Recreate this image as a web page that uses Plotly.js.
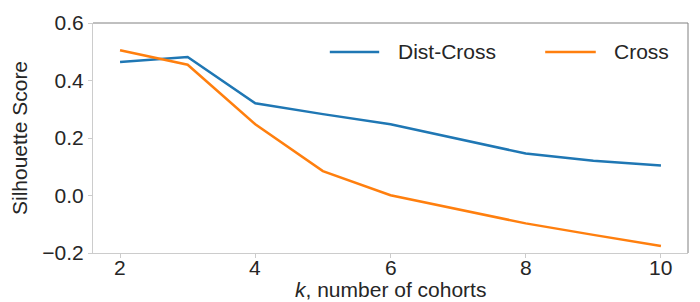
<!DOCTYPE html>
<html>
<head>
<meta charset="utf-8">
<script src="https://cdn.plot.ly/plotly-3.0.1.min.js"></script>
<style>html,body{margin:0;padding:0;background:#fff;}#chart{width:700px;height:302px;}</style>
</head>
<body>
<div id="chart"></div>
<script>
const k = [2, 3, 4, 5, 6, 7, 8, 9, 10];
const distCross = [0.464, 0.482, 0.321, 0.283, 0.248, 0.198, 0.146, 0.121, 0.104];
const cross = [0.505, 0.455, 0.248, 0.085, 0.001, -0.048, -0.097, -0.137, -0.176];
const seriesNames = ['Dist-Cross', 'Cross'];
const seriesColors = ['#1f77b4', '#ff7f0e'];
const xTicks = [2, 4, 6, 8, 10];
const xTickText = ['2', '4', '6', '8', '10'];
const yTicks = [-0.2, 0.0, 0.2, 0.4, 0.6];
const yTickText = ['\u22120.2', '0.0', '0.2', '0.4', '0.6'];
const xTitle = '<i>k</i>, number of cohorts';
const yTitle = 'Silhouette Score';

const FONT = 'Liberation Sans';
const FS = 21;
const TXT = '#262626';
const traces = [
  {x: k, y: distCross, name: seriesNames[0], mode: 'lines', line: {color: seriesColors[0], width: 2.5}},
  {x: k, y: cross, name: seriesNames[1], mode: 'lines', line: {color: seriesColors[1], width: 2.5}}
];

// manual legend (paper coordinates of the plot area)
const legendLines = [[0.398, 0.481], [0.760, 0.845]];
const legendTextX = [0.511, 0.874];
const legendY = 0.874;
const shapes = [
  {type: 'line', xref: 'paper', yref: 'paper', x0: 0, x1: 1, y0: 1, y1: 1, line: {color: '#808080', width: 1}},
  {type: 'line', xref: 'paper', yref: 'paper', x0: 1, x1: 1, y0: 0, y1: 1, line: {color: '#808080', width: 1}}
];
const annotations = [];
seriesNames.forEach((nm, i) => {
  shapes.push({type: 'line', xref: 'paper', yref: 'paper', x0: legendLines[i][0], x1: legendLines[i][1],
               y0: legendY, y1: legendY, line: {color: seriesColors[i], width: 2.5}});
  annotations.push({xref: 'paper', yref: 'paper', x: legendTextX[i], y: legendY, xanchor: 'left', yanchor: 'middle',
                    text: nm, showarrow: false, font: {family: FONT, size: FS, color: TXT}, borderpad: 0});
});
// x tick labels placed on the x scale
xTicks.forEach((v, i) => {
  annotations.push({xref: 'x', yref: 'paper', x: v, y: -0.0087, xanchor: 'center', yanchor: 'top',
                    text: xTickText[i], showarrow: false, font: {family: FONT, size: FS, color: TXT}, borderpad: 0});
});
// x-axis title
annotations.push({xref: 'paper', yref: 'paper', x: 0.5, y: -0.213, xanchor: 'center', yanchor: 'bottom',
                  text: xTitle, showarrow: false, font: {family: FONT, size: FS, color: TXT}, borderpad: 0});

const layout = {
  width: 700, height: 302,
  margin: {l: 93, r: 12, t: 23, b: 49},
  paper_bgcolor: '#fff', plot_bgcolor: '#fff',
  font: {family: FONT, size: FS, color: TXT},
  showlegend: false,
  xaxis: {range: [1.6, 10.4], tickvals: xTicks, showticklabels: false, showgrid: false, zeroline: false,
          showline: true, linecolor: '#cccccc', linewidth: 1, ticks: 'outside', ticklen: 4, tickcolor: '#cccccc'},
  yaxis: {range: [-0.2, 0.6], tickvals: yTicks, ticktext: yTickText, showgrid: false, zeroline: false,
          showline: true, linecolor: '#cccccc', linewidth: 1, ticks: 'outside', ticklen: 4, tickcolor: '#cccccc',
          tickfont: {size: FS}, title: {text: yTitle, font: {size: FS}, standoff: 8}},
  shapes: shapes,
  annotations: annotations
};
Plotly.newPlot('chart', traces, layout, {staticPlot: true, displayModeBar: false});
</script>
</body>
</html>
